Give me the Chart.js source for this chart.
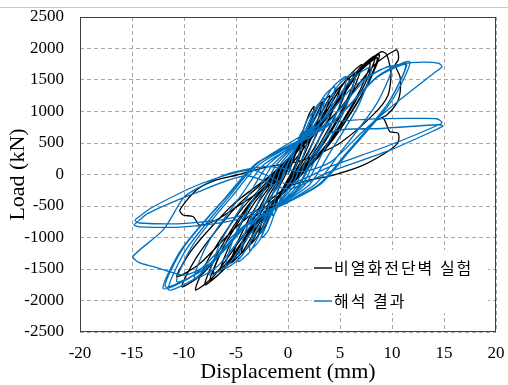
<!DOCTYPE html>
<html><head><meta charset="utf-8">
<script src="https://cdn.jsdelivr.net/npm/chart.js@4/dist/chart.umd.min.js"></script>
<style>html,body{margin:0;padding:0;background:#fff}canvas{display:block}</style>
</head><body>
<canvas id="c" width="508" height="385"></canvas>
<script>
const xTicks = [-20,-15,-10,-5,0,5,10,15,20];
const yTicks = [-2500,-2000,-1500,-1000,-500,0,500,1000,1500,2000,2500];
const seriesNames = ['비열화전단벽 실험','해석 결과'];

// Experiment (black) – displacement (mm) / load (kN)
const expDisp = [0,
 0.68,1.2,1.5,1.28,0.75,0.23,-0.68,-1.2,-1.5,-1.28,-0.75,-0.23,
 1.13,2.0,2.5,2.13,1.25,0.38,-1.26,-2.24,-2.8,-2.38,-1.4,-0.42,
 1.49,2.64,3.3,2.8,1.65,0.5,-1.62,-2.88,-3.6,-3.06,-1.8,-0.54,
 1.8,3.2,4.0,3.4,2.0,0.6,-2.03,-3.6,-4.5,-3.83,-2.25,-0.68,
 2.25,4.0,5.0,4.25,2.5,0.75,-2.48,-4.4,-5.5,-4.68,-2.75,-0.83,
 2.66,4.72,5.9,5.02,2.95,0.89,-2.93,-5.2,-6.5,-5.53,-3.25,-0.98,
 2.97,5.28,6.6,5.61,3.3,0.99,-3.24,-5.76,-7.2,-6.12,-3.6,-1.08,
 3.2,5.68,7.1,6.04,3.55,1.07,-3.38,-6.0,-7.5,-6.38,-3.75,-1.13,
 3.56,6.32,7.9,6.72,3.95,1.19,-3.6,-6.4,-8.0,-6.8,-4.0,-1.2,
 3.78,6.72,8.4,7.14,4.2,1.26,-4.0,-7.12,-8.9,-7.57,-4.45,-1.34,
 4.05,7.2,9.0,9.5,9.9,9.6,8.2,5.0,2.0,0.5,-2.0,-4.9,-6.9,-8.8,-10.4,-10.1,-9.1,-8.5,-6.9,-4.9,-2.5,-0.8,
 3.96,7.04,8.8,7.48,4.4,1.32,-4.59,-8.16,-10.2,-8.67,-5.1,-1.53,
 3.87,6.88,8.6,7.31,4.3,1.29,-4.82,-8.56,-10.7,-9.1,-5.35,-1.6,
 4.68,8.32,10.4,10.6,10.6,10.3,10.77,10.77,10.45,9.5,8.5,9.17,9.49,9.8,10.6,10.6,9.8,7.24,4.36,2.1,-0.13];
const expLoad = [0,
 300,528,600,432,180,0,-275,-484,-550,-396,-165,0,
 540,950,1080,778,324,0,-475,-836,-950,-684,-285,0,
 575,1012,1150,828,345,0,-550,-968,-1100,-792,-330,0,
 625,1100,1250,900,375,0,-625,-1100,-1250,-900,-375,0,
 690,1214,1380,994,414,0,-700,-1232,-1400,-1008,-420,0,
 760,1338,1520,1094,456,0,-760,-1338,-1520,-1094,-456,0,
 810,1426,1620,1166,486,0,-785,-1382,-1570,-1130,-471,0,
 870,1531,1740,1253,522,0,-840,-1478,-1680,-1210,-504,0,
 883,1553,1765,1271,530,0,-875,-1540,-1750,-1260,-525,0,
 940,1654,1880,1354,564,0,-915,-1610,-1830,-1318,-549,0,
 975,1716,1950,1900,1600,1250,950,500,260,190,120,-8,-87,-246,-563,-643,-670,-802,-722,-510,-250,-60,
 950,1672,1900,1368,570,0,-890,-1566,-1780,-1282,-534,0,
 925,1628,1850,1332,555,0,-810,-1426,-1620,-1166,-486,0,
 990,1742,1980,1924,1817,1738,1552,1290,1130,944,865,892,786,680,654,520,389,150,-8,-87,-193];

// Analysis (blue)
const anaDisp = [0,
 0.53,1.13,1.5,1.28,0.75,0.38,-0.53,-1.13,-1.5,-1.28,-0.75,-0.38,
 0.88,1.88,2.5,2.13,1.25,0.63,-0.88,-1.88,-2.5,-2.13,-1.25,-0.63,
 1.23,2.63,3.5,2.98,1.75,0.88,-1.3,-2.78,-3.7,-3.15,-1.85,-0.93,
 1.58,3.38,4.5,3.83,2.25,1.13,-1.68,-3.6,-4.8,-4.08,-2.4,-1.2,
 1.96,4.2,5.6,4.76,2.8,1.4,-2.1,-4.5,-6.0,-5.1,-3.0,-1.5,
 2.28,4.88,6.5,5.53,3.25,1.63,-2.63,-5.63,-7.5,-6.38,-3.75,-1.88,
 2.8,6.0,8.0,6.8,4.0,2.0,-3.15,-6.75,-9.0,-7.65,-4.5,-2.25,
 3.99,8.55,11.4,9.69,5.7,2.85,-3.75,-8.03,-10.7,-9.1,-5.35,-2.68,
 4.1,8.78,11.7,9.95,5.85,2.93,-4.13,-8.85,-11.8,-10.03,-5.9,-2.95,
 3.96,8.48,11.3,9.61,5.65,2.83,-4.2,-9.0,-12.0,-10.2,-6.0,-3.0,
 3.5,7.5,10.0,8.5,5.0,2.5,-4.03,-8.63,-11.5,-9.78,-5.75,-2.88,
 3.0,6.0,8.85,11.0,13.0,14.5,14.8,14.2,10.5,7.3,4.1,1.5,
 -2.0,-6.0,-8.5,-10.0,-12.0,-14.9,-14.3,-13.0,-11.35,-9.75,-7.0,-4.0,-1.0,
 1.0,4.0,8.0,12.0,14.3,14.8,14.5,10.0,4.04,0.0,
 -3.4,-8.2,-13.0,-14.4,-14.7,-14.3,-9.8,-4.9,0.5,
 4.0,9.0,14.5,14.9,14.6,10.0,4.04,0.0,
 -4.0,-9.0,-13.5,-14.6,-14.8,-14.3,-10.0,-5.0,0.0];
const anaLoad = [0,
 315,616,700,455,140,-70,-293,-572,-650,-423,-130,65,
 450,880,1000,650,200,-100,-450,-880,-1000,-650,-200,100,
 540,1056,1200,780,240,-120,-540,-1056,-1200,-780,-240,120,
 626,1223,1390,904,278,-139,-621,-1214,-1380,-897,-276,138,
 698,1364,1550,1008,310,-155,-666,-1302,-1480,-962,-296,148,
 729,1426,1620,1053,324,-162,-720,-1408,-1600,-1040,-320,160,
 765,1496,1700,1105,340,-170,-743,-1452,-1650,-1073,-330,165,
 794,1553,1765,1147,353,-177,-765,-1496,-1700,-1105,-340,170,
 806,1575,1790,1164,358,-179,-801,-1566,-1780,-1157,-356,178,
 783,1531,1740,1131,348,-174,-815,-1593,-1810,-1177,-362,181,
 774,1514,1720,1118,344,-172,-824,-1610,-1830,-1190,-366,183,
 800,1350,1660,1760,1785,1765,1710,1630,1150,700,200,50,
 130,0,-200,-360,-880,-1300,-1400,-1460,-1545,-1595,-1350,-800,-200,
 500,810,880,890,885,830,790,480,124,-150,
 70,-135,-516,-680,-730,-770,-775,-670,-300,
 650,730,790,770,740,400,46,-230,
 -20,-300,-620,-770,-800,-830,-830,-720,-450];

const pts = (xs, ys) => xs.map((x, i) => ({x: x, y: ys[i]}));
const SERIF = "'Liberation Serif','Times New Roman',serif";
const KR = "'Noto Sans CJK KR','Noto Sans',sans-serif";

const frame = {
  id: 'frame',
  beforeDraw(c) {
    const ctx = c.ctx;
    ctx.save();
    ctx.fillStyle = '#fff';
    ctx.fillRect(0, 0, c.width, c.height);
    ctx.strokeStyle = '#c8c8c8';
    ctx.lineWidth = 1;
    ctx.beginPath(); ctx.moveTo(0, 7.5); ctx.lineTo(c.width, 7.5); ctx.stroke();
    ctx.restore();
  },
  afterDatasetsDraw(c) {
    const ctx = c.ctx, a = c.chartArea;
    ctx.save();
    ctx.strokeStyle = '#404040';
    ctx.lineWidth = 1;
    ctx.strokeRect(Math.round(a.left) + 0.5, Math.round(a.top) + 0.5, Math.round(a.right - a.left) - 1, Math.round(a.bottom - a.top) - 1);
    // legend
    ctx.fillStyle = '#fff';
    ctx.fillRect(312, 250, 176, 63);
    const rows = [[seriesNames[0], '#000', 268], [seriesNames[1], '#0070c0', 301]];
    ctx.font = '16px ' + KR;
    ctx.textBaseline = 'middle';
    try { ctx.letterSpacing = '2px'; } catch (e) {}
    rows.forEach(r => {
      ctx.strokeStyle = r[1]; ctx.lineWidth = 1.4;
      ctx.beginPath(); ctx.moveTo(314, r[2]); ctx.lineTo(332, r[2]); ctx.stroke();
      ctx.fillStyle = '#000';
      ctx.fillText(r[0], 334, r[2]);
    });
    ctx.restore();
  }
};

new Chart(document.getElementById('c'), {
  type: 'scatter',
  data: {
    datasets: [
      {label: seriesNames[0], data: pts(expDisp, expLoad), showLine: true, borderColor: '#000', backgroundColor: '#000',
       borderWidth: 1.3, pointRadius: 0, tension: 0.25, fill: false, order: 1},
      {label: seriesNames[1], data: pts(anaDisp, anaLoad), showLine: true, borderColor: '#0070c0', backgroundColor: '#0070c0',
       borderWidth: 1.3, pointRadius: 0, tension: 0.25, fill: false, order: 0}
    ]
  },
  options: {
    responsive: false, animation: false, devicePixelRatio: 1,
    layout: {padding: {top: 17, right: 12, left: 0, bottom: 0}},
    plugins: {legend: {display: false}, tooltip: {enabled: false}},
    scales: {
      x: {
        type: 'linear', min: xTicks[0], max: xTicks[xTicks.length - 1],
        afterBuildTicks: s => { s.ticks = xTicks.map(v => ({value: v})); },
        afterFit: s => { s.height = 53; s.paddingLeft = 0; s.paddingRight = 0; },
        ticks: {font: {family: SERIF, size: 17}, color: '#000', padding: 11, maxRotation: 0, autoSkip: false,
                callback: v => String(v)},
        grid: {color: '#a6a6a6', lineWidth: 1, drawTicks: false},
        border: {display: false, dash: [4, 3]},
        title: {display: true, text: 'Displacement (mm)', font: {family: SERIF, size: 22}, color: '#000', padding: {top: 0, bottom: 0}}
      },
      y: {
        type: 'linear', min: yTicks[0], max: yTicks[yTicks.length - 1],
        afterBuildTicks: s => { s.ticks = yTicks.map(v => ({value: v})); },
        afterFit: s => { s.width = 80; s.paddingTop = 0; s.paddingBottom = 0; },
        ticks: {font: {family: SERIF, size: 17}, color: '#000', padding: 16, autoSkip: false,
                callback: v => String(v)},
        grid: {color: '#a6a6a6', lineWidth: 1, drawTicks: false},
        border: {display: false, dash: [4, 3]},
        title: {display: true, text: 'Load (kN)', font: {family: SERIF, size: 22}, color: '#000', padding: {top: 5, bottom: 0}}
      }
    }
  },
  plugins: [frame]
});
</script>
</body></html>
